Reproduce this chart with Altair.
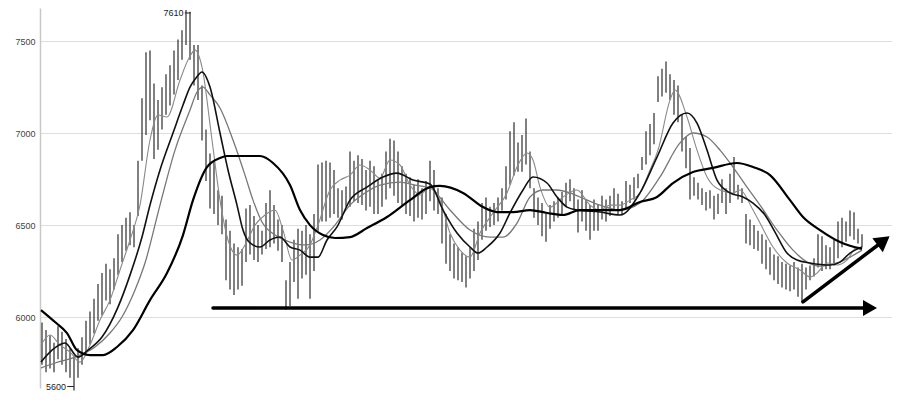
import altair as alt
import pandas as pd

# ---------------- price bars (one per trading day) ----------------
HIGH = [5970,5930,5900,5860,5950,5920,5880,5830,5790,5830,
        5890,5980,6030,6100,6180,6240,6290,6260,6320,6450,
        6500,6540,6570,6500,6850,7190,7440,7450,7270,7180,
        7250,7320,7370,7450,7510,7560,7670,7660,7480,7480,
        7260,7020,6890,6850,6690,6660,6530,6470,6400,6380,
        6370,6590,6610,6550,6500,6470,6620,6690,6610,6530,
        6500,6200,6300,6420,6480,6470,6500,6450,6560,6830,
        6840,6850,6840,6800,6700,6690,6710,6900,6850,6880,
        6860,6800,6850,6820,6750,6780,6900,6970,6960,6900,
        6820,6780,6760,6720,6750,6700,6740,6850,6800,6700,
        6650,6560,6450,6400,6380,6350,6330,6380,6480,6520,
        6620,6650,6600,6620,6650,6700,6820,7010,7060,6950,
        6990,7080,6900,6700,6650,6620,6560,6610,6630,6650,
        6680,6730,6750,6700,6640,6690,6640,6610,6640,6610,
        6660,6640,6660,6700,6670,6630,6740,6720,6760,6780,
        6870,7010,7050,7110,7310,7350,7390,7320,7290,7260,
        7100,6980,6920,6760,6730,6700,6680,6690,6660,6670,
        6750,6700,6780,6870,6720,6700,6560,6530,6500,6470,
        6450,6420,6380,6340,6330,6300,6290,6280,6300,6270,
        6290,6270,6280,6320,6450,6440,6390,6380,6420,6520,
        6540,6520,6580,6570,6480,6450]
LOW = [5740,5700,5720,5700,5770,5740,5700,5670,5600,5670,
       5740,5790,5850,5910,5980,6010,6090,6070,6150,6230,
       6300,6360,6390,6380,6550,6850,6990,7070,6860,6910,
       7020,7100,7150,7210,7290,7400,7480,7400,7260,7180,
       6960,6740,6590,6560,6500,6450,6200,6150,6120,6150,
       6170,6300,6340,6310,6300,6340,6370,6380,6400,6360,
       6300,6040,6060,6190,6100,6210,6230,6100,6250,6470,
       6520,6520,6540,6560,6540,6530,6600,6600,6630,6620,
       6610,6580,6600,6560,6560,6600,6640,6700,6660,6620,
       6600,6560,6550,6520,6540,6530,6560,6630,6580,6560,
       6400,6290,6250,6210,6200,6190,6160,6210,6250,6310,
       6420,6470,6490,6500,6520,6580,6640,6720,6770,6790,
       6790,6830,6700,6540,6500,6440,6410,6480,6520,6540,
       6550,6600,6630,6580,6460,6520,6470,6420,6470,6470,
       6530,6520,6550,6580,6560,6560,6590,6620,6640,6700,
       6800,6830,6880,6940,7170,7200,7220,7180,7100,7060,
       6900,6810,6640,6660,6640,6610,6580,6590,6530,6560,
       6620,6560,6620,6670,6640,6620,6400,6390,6370,6360,
       6290,6260,6230,6200,6180,6160,6150,6140,6150,6110,
       6080,6150,6200,6220,6270,6250,6260,6260,6280,6320,
       6380,6410,6440,6420,6400,6380]
DAY = list(range(len(HIGH)))

# ---------------- moving averages (day position, value) ----------------
MA_FAST_X = [-0.25,2,4.5,7,9.5,12,14.5,17,19.5,22,24.5,27,29,31.25,34.5,36.5,38.25,40,42.5,44.5,
             46.5,48.75,50.75,53.25,55.75,58.25,60.25,62.5,64.5,67,69,72,74.5,77,79.5,82,84.5,87,89.5,92,
             94.5,97,99.5,102,104.5,107,109.5,112.75,116.25,118.75,121.25,122.75,124.5,127,130.25,133.75,
             137,139.5,142,144.5,147,149.5,152,154,157,158.25,161.25,163.75,166.25,169.5,172.75,174.5,
             177.75,179.5,182.75,186.25,189.5,192,193.75,196.25,198.75,201.25,203.75,205]
MA_FAST_Y = [5848,5902,5848,5810,5755,5848,5984,6092,6256,6419,6609,6963,7099,7088,7289,7398,7452,7360,6963,6636,
             6419,6337,6392,6500,6555,6582,6473,6310,6337,6392,6500,6691,6745,6772,6827,6800,6756,6854,6827,6718,
             6664,6707,6636,6457,6364,6326,6457,6566,6675,6816,6892,6854,6707,6598,6653,6691,
             6609,6582,6609,6609,6636,6675,6800,6908,7180,7235,7088,6908,6762,6691,6675,6691,
             6582,6511,6381,6294,6256,6218,6239,6294,6283,6310,6381,6375]

MA_MID_X = [-0.25,2.5,5.75,9,11.5,15,19,22,25,27,29.5,32.75,35.25,37,38.5,40,42,44.5,46.5,48.75,
            50.25,52,54.5,57,59.5,62,64.5,67,69,71.25,73.75,77,81.25,85.25,88.75,92.75,97,100.25,103.75,107,
            109,111.25,114.5,117,120.25,122.75,126.25,128.75,131.25,133.75,139.5,144.5,149.5,153.75,157.75,
            161.25,163.75,166.25,168.75,172,175.25,177.75,180.75,183.25,186.25,188.75,192,197,199.5,202,205]
MA_MID_Y = [5755,5820,5859,5782,5820,5891,6054,6228,6435,6609,6800,7001,7153,7251,7300,7333,7251,7001,6800,6609,
            6473,6403,6381,6419,6435,6381,6364,6326,6326,6419,6490,6636,6707,6762,6783,6745,6724,6582,6457,6381,
            6348,6381,6457,6566,6691,6762,6729,6653,6598,6582,6571,6555,6675,6870,7055,
            7110,7055,6908,6745,6675,6653,6620,6555,6462,6348,6310,6294,6283,6299,6348,6381]

MA_SLOW_X = [-0.25,3.25,8.25,13.25,17,20,23.25,25.75,29.5,33.25,37,38.75,40.25,42,44.5,47.75,50.75,52.75,55,58.25,
             62,65.75,69.5,73.25,77,80.75,84.5,89.5,93.25,97,102,107,112,115.25,118.75,122,125.25,128.75,132,134.5,
             139.5,144.5,149.5,154.5,159.5,162.75,166.25,169.5,172.75,176.25,179.5,183.75,187.75,191.25,194.5,
             198.75,202,205]
MA_SLOW_Y = [5723,5750,5782,5837,5913,6000,6147,6294,6609,6908,7126,7224,7251,7208,7137,6963,6772,6636,6517,6446,
             6408,6392,6419,6500,6609,6675,6718,6734,6718,6702,6582,6473,6435,6435,6511,6653,6691,6691,6675,6653,
             6609,6582,6620,6762,6947,7001,6979,6908,6816,6707,6609,6473,6364,6299,6277,
             6294,6326,6364]

MA_LONG_X = [-0.25,3.25,6.25,8.75,12,15.25,18.75,22.75,27,31.25,35.25,37.75,41.25,44.5,46.25,54.5,57.75,62,64.5,67,
             70.25,73.25,77,81.25,86.25,92,97,99.5,105.25,110.25,113.75,117.75,122,126.25,130.25,134.5,139.5,144.5,
             149.5,153.75,157.75,162.75,167.75,173.75,177.75,182,187,190.25,194.5,199.5,205]
MA_LONG_Y = [6038,5973,5913,5820,5793,5793,5837,5929,6092,6239,6446,6636,6816,6865,6876,6876,6838,6718,6582,6500,
             6446,6430,6435,6484,6544,6636,6707,6713,6675,6598,6571,6571,6582,6566,6555,6582,6582,6582,
             6626,6653,6729,6789,6811,6838,6816,6772,6636,6544,6473,6408,6370]

TICKS = [6000, 6500, 7000, 7500]
PEAK_LABEL, PEAK_LABEL_Y = "7610", 7654
LOW_LABEL, LOW_LABEL_Y = "5600", 5622

# ---------------- chart ----------------
xs = alt.Scale(domain=[-0.5, 212.5], nice=False, zero=False)
ys = alt.Scale(domain=[5614, 7681], nice=False, zero=False)
y_axis = alt.Axis(values=TICKS, format="d", grid=True, gridColor="#dedede", gridWidth=1,
                  domain=True, domainColor="#c8c8c8", domainWidth=1.5,
                  ticks=False, labelPadding=5, labelFontSize=9,
                  labelColor="#444", labelFont="Liberation Sans", title=None)


def X(field):
    return alt.X(field, scale=xs, axis=None)


def Y(field):
    return alt.Y(field, scale=ys, axis=y_axis)


bars = pd.DataFrame({"day": DAY, "high": HIGH, "low": LOW})
bar_layer = alt.Chart(bars).mark_rule(color="#3c3c3c", strokeWidth=1.3).encode(
    x=X("day:Q"), y=Y("low:Q"), y2="high:Q",
)


def ma_layer(xv, yv, color, width):
    df = pd.DataFrame({"day": xv, "v": yv})
    return alt.Chart(df).mark_line(color=color, strokeWidth=width, interpolate="monotone").encode(
        x=X("day:Q"), y=Y("v:Q"),
    )


l_fast = ma_layer(MA_FAST_X, MA_FAST_Y, "#8a8a8a", 1.1)
l_slow = ma_layer(MA_SLOW_X, MA_SLOW_Y, "#777777", 1.3)
l_mid = ma_layer(MA_MID_X, MA_MID_Y, "#111111", 1.6)
l_long = ma_layer(MA_LONG_X, MA_LONG_Y, "#000000", 2.2)

# arrows
arrow_lines = pd.DataFrame({
    "x1": [42.75, 190.25], "x2": [207.0, 210.4],
    "y1": [6049, 6082], "y2": [6049, 6415],
})
arrow_rule = alt.Chart(arrow_lines).mark_rule(color="#000", strokeWidth=3.5, strokeCap="round").encode(
    x=X("x1:Q"), x2="x2:Q", y=Y("y1:Q"), y2="y2:Q",
)
head_h = alt.Chart(pd.DataFrame({"x": [207.0], "y": [6049]})).mark_point(
    shape="triangle-right", filled=True, size=260, color="#000", opacity=1).encode(
    x=X("x:Q"), y=Y("y:Q"))
head_d = alt.Chart(pd.DataFrame({"x": [210.4], "y": [6415]})).mark_point(
    shape="triangle-up", filled=True, size=300, angle=53, color="#000", opacity=1).encode(
    x=X("x:Q"), y=Y("y:Q"))

# extreme labels
labels = pd.DataFrame({"x": [35.4, 6.0], "y": [PEAK_LABEL_Y, LOW_LABEL_Y], "t": [PEAK_LABEL, LOW_LABEL]})
label_text = alt.Chart(labels).mark_text(align="right", baseline="middle", fontSize=9,
                                         font="Liberation Sans", color="#222").encode(
    x=X("x:Q"), y=Y("y:Q"), text="t:N")
lead = pd.DataFrame({"x1": [35.7, 6.3], "x2": [37.2, 8.0], "y": [PEAK_LABEL_Y, LOW_LABEL_Y]})
lead_rule = alt.Chart(lead).mark_rule(color="#222", strokeWidth=1).encode(
    x=X("x1:Q"), x2="x2:Q", y=Y("y:Q"))

chart = alt.layer(
    bar_layer, l_slow, l_fast, l_mid, l_long, arrow_rule, head_h, head_d, label_text, lead_rule
).properties(
    width=852, height=380,
    background="white",
    autosize=alt.AutoSizeParams(type="none"),
    padding={"left": 32, "top": 0, "right": 0, "bottom": 4},
).configure_view(strokeWidth=0, stroke=None)

chart.save("out.html", embed_options={"renderer": "svg", "actions": False})
